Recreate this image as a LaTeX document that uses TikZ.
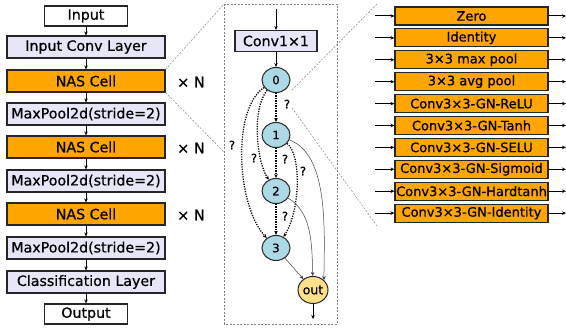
\documentclass[tikz,border=0pt]{standalone}
\usepackage{fontspec}
\setmainfont{DejaVu Sans}[FakeBold=0.6]
\usetikzlibrary{arrows.meta,shapes.geometric}
\definecolor{nasor}{HTML}{FFA500}
\definecolor{lav}{HTML}{E6E6F8}
\definecolor{nodeblue}{HTML}{ADD8E6}
\definecolor{outgold}{HTML}{FFE08A}
\tikzset{
  blk/.style={draw=black!85, line width=1.1pt, minimum width=158pt, minimum height=22pt, inner sep=0pt, font=\fontsize{14.2}{14}\selectfont},
  lavbox/.style={blk, fill=lav},
  nasbox/.style={blk, fill=nasor},
  iobox/.style={blk, fill=white, minimum width=83pt, minimum height=20pt},
  opbox/.style={draw=black!85, line width=1.1pt, fill=nasor, minimum width=153pt, minimum height=18pt, inner sep=0pt, font=\fontsize{13}{12}\selectfont},
  cellnode/.style={ellipse, draw=black!85, line width=1pt, fill=nodeblue, minimum width=28pt, minimum height=25pt, inner sep=0pt, font=\fontsize{11.5}{10}\selectfont},
  arr/.style={-{Stealth[length=4pt,width=3.5pt]}, line width=1pt},
  dotarr/.style={-{Stealth[length=4pt,width=3.5pt]}, line width=1.3pt, dash pattern=on 1.2pt off 1.3pt},
  thinarr/.style={-{Stealth[length=4pt,width=3.5pt]}, line width=0.5pt, black!75},
  qlab/.style={font=\fontsize{11.5}{10}\selectfont, inner sep=0pt},
  xlab/.style={font=\fontsize{14.5}{14}\selectfont},
  proj/.style={gray, line width=0.5pt, dash pattern=on 2pt off 1.5pt},
}
\begin{document}
\begin{tikzpicture}[x=1pt,y=-1pt]
\useasboundingbox (0,0) rectangle (566,328);
% left column
\node[iobox] (in) at (86,16) {Input};
\node[lavbox] (icl) at (86,47) {Input Conv Layer};
\node[nasbox] (nas1) at (86,81) {NAS Cell};
\node[lavbox] (mp1) at (86,114) {MaxPool2d(stride=2)};
\node[nasbox] (nas2) at (86,147) {NAS Cell};
\node[lavbox] (mp2) at (86,181) {MaxPool2d(stride=2)};
\node[nasbox] (nas3) at (86,214) {NAS Cell};
\node[lavbox] (mp3) at (86,248) {MaxPool2d(stride=2)};
\node[lavbox] (cls) at (86,282) {Classification Layer};
\node[iobox] (outp) at (86,314) {Output};
\foreach \a/\b in {in/icl,icl/nas1,nas1/mp1,mp1/nas2,nas2/mp2,mp2/nas3,nas3/mp3,mp3/cls,cls/outp}
  \draw[arr] (\a) -- (\b);
\node[xlab] (xn1) at (191,82) {× N};
\node[xlab] (xn2) at (191,148) {× N};
\node[xlab] (xn3) at (191,215) {× N};
% cell box
\draw[proj] (224,4) rectangle (337,324);
\coordinate (btl) at (224,4);
\coordinate (bml) at (224,152);
\draw[proj] (nas1.north east) -- (btl);
\draw[proj] (nas1.south east) -- (bml);
\coordinate (cin) at (276,9);
\node[draw=black!85, line width=1.1pt, fill=lav, minimum width=82pt, minimum height=21pt, inner sep=0pt, font=\fontsize{14.2}{14}\selectfont] (c11) at (276,41) {Conv1×1};
\draw[arr] (cin) -- (c11);
\node[cellnode] (n0) at (276,80) {0};
\node[cellnode] (n1) at (276,135) {1};
\node[cellnode] (n2) at (276,191) {2};
\node[cellnode] (n3) at (276,248) {3};
\node[cellnode, fill=outgold, minimum width=30pt, minimum height=27pt, font=\fontsize{12.5}{11}\selectfont] (nout) at (313,290) {out};
\coordinate (cout) at (313,319);
\draw[arr] (c11) -- (n0);
\draw[arr] (nout) -- (cout);
% dotted candidate edges
\draw[dotarr] (n0) -- (n1);
\draw[dotarr] (n0) .. controls (252,108) and (256,160) .. (n2);
\draw[dotarr] (n0) .. controls (232,108) and (236,205) .. (n3);
\draw[dotarr] (n1) -- (n2);
\draw[dotarr] (n1) .. controls (302,155) and (300,212) .. (n3);
\draw[dotarr] (n2) -- (n3);
% solid edges to out
\draw[thinarr] (n1) .. controls (330,155) and (324,235) .. (nout.north east);
\draw[thinarr] (n2) .. controls (312,212) and (312,245) .. (nout);
\draw[thinarr] (n3) -- (nout);
% question labels
\node[qlab] (q01) at (287,104) {?};
\node[qlab] (q03) at (232,145) {?};
\node[qlab] (q02) at (254,158) {?};
\node[qlab] (q12) at (285,159) {?};
\node[qlab] (q13) at (303,171) {?};
\node[qlab] (q23) at (285,216) {?};
% projection to ops
\coordinate (pa) at (292,90);
\coordinate (pb) at (292,108);
\coordinate (pc) at (377,4);
\coordinate (pd) at (377,226);
\draw[proj] (pa) -- (pc);
\draw[proj] (pb) -- (pd);
% ops list
\foreach \i/\t in {0/Zero,1/Identity,2/3×3 max pool,3/3×3 avg pool,4/Conv3×3-GN-ReLU,5/Conv3×3-GN-Tanh,6/Conv3×3-GN-SELU,7/Conv3×3-GN-Sigmoid,8/Conv3×3-GN-Hardtanh,9/Conv3×3-GN-Identity}{
  \node[opbox] (op\i) at (471.5,{16+21.9*\i}) {\t};
  \coordinate (opl\i) at (375,{16+21.9*\i});
  \coordinate (opr\i) at (566,{16+21.9*\i});
  \draw[arr] (opl\i) -- (op\i);
  \draw[arr] (op\i) -- (opr\i);
}
\end{tikzpicture}
\end{document}
